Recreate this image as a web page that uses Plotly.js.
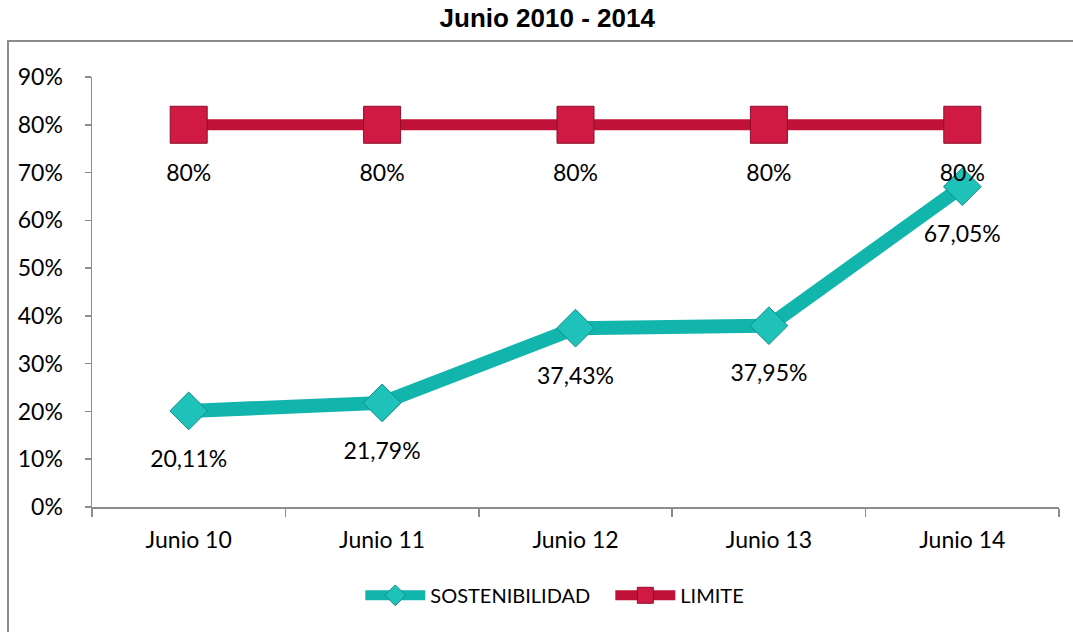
<!DOCTYPE html>
<html>
<head>
<meta charset="utf-8">
<script src="https://cdn.plot.ly/plotly-3.0.1.min.js"></script>
<style>html,body{margin:0;padding:0;background:#fff;}#chart{width:1073px;height:632px;}</style>
</head>
<body>
<div id="chart"></div>
<script>
const categories = ["Junio 10", "Junio 11", "Junio 12", "Junio 13", "Junio 14"];
const sostenibilidad = [0.2011, 0.2179, 0.3743, 0.3795, 0.6705];
const sostenibilidadLabels = ["20,11%", "21,79%", "37,43%", "37,95%", "67,05%"];
const limite = [0.80, 0.80, 0.80, 0.80, 0.80];
const limiteLabels = ["80%", "80%", "80%", "80%", "80%"];
const yTickVals = [0, 0.1, 0.2, 0.3, 0.4, 0.5, 0.6, 0.7, 0.8, 0.9];
const yTickText = ["0%", "10%", "20%", "30%", "40%", "50%", "60%", "70%", "80%", "90%"];

const FONT = "Lato, 'Open Sans', sans-serif";
const labelFont = {family: FONT, size: 23, color: "#000"};

const traces = [
  {
    x: categories, y: sostenibilidad, name: "SOSTENIBILIDAD",
    type: "scatter", mode: "lines+markers",
    line: {color: "#12B5AB", width: 14},
    marker: {symbol: "diamond", size: 29, color: "#1FC2B9", line: {color: "#0E8E87", width: 1}},
    cliponaxis: false
  },
  {
    x: categories, y: limite, name: "LIMITE",
    type: "scatter", mode: "lines+markers",
    line: {color: "#C01238", width: 11},
    marker: {symbol: "square", size: 37, color: "#D01A44", line: {color: "#8A0F2C", width: 1}},
    cliponaxis: false
  },
  {
    x: categories, y: sostenibilidad, type: "scatter", mode: "markers+text",
    text: sostenibilidadLabels, textposition: "bottom center", textfont: labelFont,
    marker: {size: 60, opacity: 0}, showlegend: false, hoverinfo: "skip", cliponaxis: false
  },
  {
    x: categories, y: limite, type: "scatter", mode: "markers+text",
    text: limiteLabels, textposition: "bottom center", textfont: labelFont,
    marker: {size: 60, opacity: 0}, showlegend: false, hoverinfo: "skip", cliponaxis: false
  }
];

const layout = {
  width: 1073, height: 632,
  margin: {l: 92, r: 14, t: 77, b: 125},
  paper_bgcolor: "#fff", plot_bgcolor: "#fff",
  title: {
    text: "<b>Junio 2010 - 2014</b>",
    font: {family: "'Liberation Sans', Arial, sans-serif", size: 26, color: "#000"},
    x: 0.51, xanchor: "center", y: 0.972, yanchor: "middle", yref: "container"
  },
  xaxis: {
    type: "category", range: [-0.5, 4.5], autorange: false, showgrid: false, zeroline: false,
    showline: true, linecolor: "#8c8c8c", linewidth: 1.5,
    ticks: "outside", tickson: "boundaries", ticklen: 8, tickcolor: "#8c8c8c", tickwidth: 1.5,
    tickfont: labelFont, ticklabelstandoff: 12
  },
  yaxis: {
    range: [0, 0.9], autorange: false, showgrid: false, zeroline: false,
    showline: true, linecolor: "#8c8c8c", linewidth: 1.5,
    ticks: "outside", ticklen: 6, tickcolor: "#8c8c8c", tickwidth: 1.5,
    tickvals: yTickVals, ticktext: yTickText, tickfont: labelFont, ticklabelstandoff: 17
  },
  legend: {
    orientation: "h", x: 0.536, xanchor: "center", y: -0.16, yanchor: "top",
    font: {family: FONT, size: 20, color: "#000"},
    itemwidth: 60, entrywidth: 175
  },
  shapes: [{
    type: "rect", xref: "paper", yref: "paper",
    x0: (8 - 92) / 967, x1: (1090 - 92) / 967,
    y0: (507 - 650) / 430, y1: (507 - 41) / 430,
    line: {color: "#8c8c8c", width: 2}, fillcolor: "rgba(0,0,0,0)", layer: "below"
  }],
  showlegend: true
};

Plotly.newPlot("chart", traces, layout, {displayModeBar: false, staticPlot: true});
</script>
</body>
</html>
